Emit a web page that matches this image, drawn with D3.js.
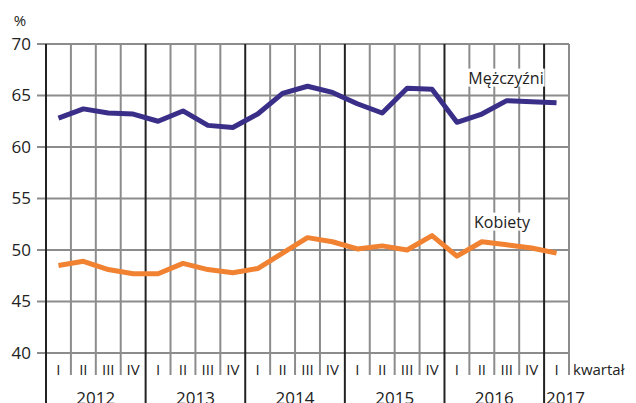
<!DOCTYPE html>
<html>
<head>
<meta charset="utf-8">
<script src="https://cdn.jsdelivr.net/npm/d3@7"></script>
<style>
  body { margin: 0; background: #fff; }
  svg { display: block; font-family: "Open Sans", sans-serif; }
</style>
</head>
<body>
<svg id="chart" width="636" height="403"></svg>
<script>
// kwartały 2012 I - 2017 I
var years = ['2012', '2013', '2014', '2015', '2016', '2017'];
var quarterNames = ['I', 'II', 'III', 'IV'];
var men = [62.8, 63.7, 63.3, 63.2, 62.5, 63.5, 62.1, 61.9, 63.2, 65.2, 65.9, 65.3,
           64.2, 63.3, 65.7, 65.6, 62.4, 63.2, 64.5, 64.4, 64.3];
var women = [48.5, 48.9, 48.1, 47.7, 47.7, 48.7, 48.1, 47.8, 48.2, 49.7, 51.2, 50.8,
             50.1, 50.4, 50.0, 51.4, 49.4, 50.8, 50.5, 50.2, 49.7];
var yTicks = [40, 45, 50, 55, 60, 65, 70];

var quarters = [];
years.forEach(function(yr) {
  quarterNames.forEach(function(q) {
    if (quarters.length < men.length) quarters.push({ year: yr, q: q, key: yr + q });
  });
});

var svg = d3.select('#chart');
var plotLeft = 46, plotRight = 569, plotTop = 44, plotBottom = 353;

var x = d3.scaleBand()
          .domain(quarters.map(function(d) { return d.key; }))
          .range([plotLeft, plotRight]);
var y = d3.scaleLinear().domain([40, 70]).range([plotBottom, plotTop]);

var grid = svg.append('g');

// poziome linie siatki
grid.selectAll('line.h')
    .data(yTicks)
    .enter().append('line')
    .attr('x1', 37).attr('x2', plotRight)
    .attr('y1', function(d) { return y(d); })
    .attr('y2', function(d) { return y(d); })
    .style('stroke', '#8c8c8c').style('stroke-width', 2);

// pionowe linie - kwartały szare, początek roku czarny
grid.selectAll('line.v')
    .data(quarters)
    .enter().append('line')
    .attr('x1', function(d) { return x(d.key); })
    .attr('x2', function(d) { return x(d.key); })
    .attr('y1', plotTop)
    .attr('y2', function(d) { return d.q === 'I' ? 403 : 375; })
    .style('stroke', function(d) { return d.q === 'I' ? '#222' : '#8c8c8c'; })
    .style('stroke-width', 2);

grid.append('line')
    .attr('x1', plotRight).attr('x2', plotRight)
    .attr('y1', plotTop).attr('y2', 375)
    .style('stroke', '#8c8c8c').style('stroke-width', 2);

// etykiety osi Y
svg.selectAll('text.ytick')
   .data(yTicks)
   .enter().append('text')
   .attr('x', 31)
   .attr('y', function(d) { return y(d); })
   .attr('dy', '0.35em')
   .attr('text-anchor', 'end')
   .style('font-size', '17px')
   .style('fill', '#222')
   .text(function(d) { return d; });

svg.append('text')
   .attr('x', 20).attr('y', 26)
   .attr('text-anchor', 'middle')
   .style('font-size', '15px')
   .style('fill', '#222')
   .text('%');

// etykiety kwartałów
svg.selectAll('text.q')
   .data(quarters)
   .enter().append('text')
   .attr('x', function(d) { return x(d.key) + x.bandwidth() / 2; })
   .attr('y', 375)
   .attr('text-anchor', 'middle')
   .style('font-size', '15px')
   .style('fill', '#222')
   .text(function(d) { return d.q; });

svg.append('text')
   .attr('x', plotRight + 4).attr('y', 375)
   .style('font-size', '15px')
   .style('fill', '#222')
   .text('kwartał');

// etykiety lat
svg.selectAll('text.year')
   .data(years)
   .enter().append('text')
   .attr('x', function(d) {
     var qs = quarters.filter(function(q) { return q.year === d; });
     if (qs.length < 4) return x(qs[0].key) + 2;
     return x(qs[0].key) + x.bandwidth() * 2;
   })
   .attr('y', 404)
   .attr('text-anchor', function(d) {
     return quarters.filter(function(q) { return q.year === d; }).length < 4 ? 'start' : 'middle';
   })
   .style('font-size', '17px')
   .style('fill', '#222')
   .text(function(d) { return d; });

// linie danych
var line = d3.line()
  .x(function(d, i) { return x(quarters[i].key) + x.bandwidth() / 2; })
  .y(function(d) { return y(d); });

svg.append('path')
   .datum(men)
   .attr('d', line)
   .style('fill', 'none')
   .style('stroke', '#3a2f88')
   .style('stroke-width', 5)
   .style('stroke-linejoin', 'round');

svg.append('path')
   .datum(women)
   .attr('d', line)
   .style('fill', 'none')
   .style('stroke', '#f08232')
   .style('stroke-width', 5)
   .style('stroke-linejoin', 'round');

// podpisy serii z białym tłem
function seriesLabel(txt, cx, cy) {
  var t = svg.append('text')
     .attr('x', cx).attr('y', cy)
     .attr('dy', '0.35em')
     .attr('text-anchor', 'middle')
     .style('font-size', '16px')
     .style('fill', '#222')
     .text(txt);
  var b = t.node().getBBox();
  svg.insert('rect', function() { return t.node(); })
     .attr('x', b.x - 1).attr('y', b.y + 2)
     .attr('width', b.width + 2).attr('height', b.height - 4)
     .style('fill', '#fff');
}
seriesLabel('Mężczyźni', 506, 78);
seriesLabel('Kobiety', 502, 222);
</script>
</body>
</html>
